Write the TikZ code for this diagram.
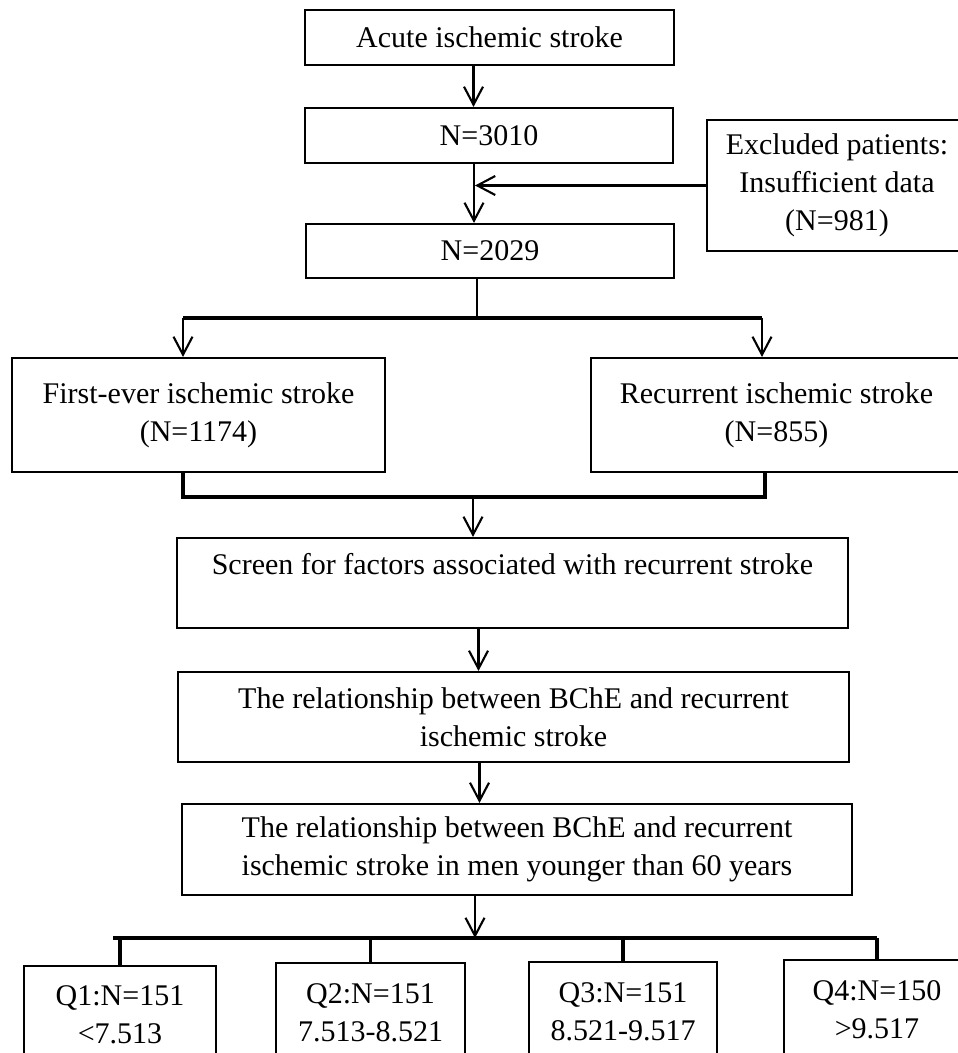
\documentclass[tikz,border=0pt]{standalone}
\usepackage{fontspec}
\setmainfont{Liberation Serif}
\usetikzlibrary{arrows.meta}
\tikzset{
  box/.style={draw, line width=1.05pt, inner sep=0pt, align=center,
    font={\fontsize{15}{19}\selectfont}},
  arr/.style={line width=1.05pt, -{Straight Barb[length=9pt,width=9.5pt]}},
  bar/.style={line width=1.6pt},
}
\begin{document}
\begin{tikzpicture}[x=0.5pt,y=-0.5pt]
        \useasboundingbox (0,0) rectangle (957,1053);
        \node[box, minimum width=184.5pt, minimum height=27.5pt] (A) at (489.5,37.5) {Acute ischemic stroke};
        \node[box, minimum width=184pt, minimum height=27.5pt] (N1) at (489,135.5) {N=3010};
        \node[box, minimum width=184pt, minimum height=27pt] (N2) at (490,251) {N=2029};
        \node[box, minimum width=130pt, minimum height=65.5pt] (Ex) at (837,185.5) {Excluded patients:\\Insufficient data\\(N=981)};
        \node[box, minimum width=186.5pt, minimum height=57pt] (F) at (198.5,415) {First-ever ischemic stroke\\(N=1174)};
        \node[box, minimum width=185.5pt, minimum height=57pt] (R) at (776.5,415) {Recurrent ischemic stroke\\(N=855)};
        \node[box, minimum width=335.5pt, minimum height=45pt] (Sc) at (512.5,583) {Screen for factors associated with recurrent stroke\\~};
        \node[box, minimum width=335.5pt, minimum height=45pt] (Rel1) at (513.5,717) {The relationship between BChE and recurrent\\ischemic stroke};
        \node[box, minimum width=335pt, minimum height=45.5pt] (Rel2) at (517,849.5) {The relationship between BChE and recurrent\\ischemic stroke in men younger than 60 years};
        \node[box, minimum width=96pt, minimum height=49pt] (Q1) at (120,1015) {Q1:N=151\\<7.513};
        \node[box, minimum width=94.5pt, minimum height=50pt] (Q2) at (370.5,1013) {Q2:N=151\\7.513-8.521};
        \node[box, minimum width=94pt, minimum height=50pt] (Q3) at (623,1012) {Q3:N=151\\8.521-9.517};
        \node[box, minimum width=93pt, minimum height=50pt] (Q4) at (877,1010) {Q4:N=150\\>9.517};
        % split and join points
        \coordinate (J1) at (477,318);
        \coordinate (J1L) at (183,318);
        \coordinate (J1R) at (762,318);
        \coordinate (J2) at (473,497);
        \coordinate (J2L) at (183,497);
        \coordinate (J2R) at (765,497);
        \coordinate (J3) at (475,938);
        \coordinate (J3L) at (113,938);
        \coordinate (J3R) at (877,938);
        \draw[arr] ([xshift=-8pt]A.south) -- ([xshift=-8pt]A.south |- N1.north);
        \draw[arr] ([xshift=-7.5pt]N1.south) -- ([xshift=-7.5pt]N1.south |- N2.north);
        \draw[arr] (Ex.west) -- ([xshift=-7pt]N1.south |- Ex.west);
        \draw[line width=1.05pt] (N2.south -| J1) -- (J1);
        \draw[bar] (J1L) -- (J1R);
        \draw[arr] (J1L) -- (J1L |- F.north);
        \draw[arr] (J1R) -- (J1R |- R.north);
        \draw[bar] (F.south -| J2L) -- (J2L) -- (J2R) -- (R.south -| J2R);
        \draw[arr] (J2) -- (J2 |- Sc.north);
        \draw[arr] ([xshift=-17pt]Sc.south) -- ([xshift=-17pt]Sc.south |- Rel1.north);
        \draw[arr] ([xshift=-17pt]Rel1.south) -- ([xshift=-17pt]Rel1.south |- Rel2.north);
        \draw[arr] (Rel2.south -| J3) -- (J3);
        \draw[bar] (J3L) -- (J3R);
        \foreach \q in {Q1,Q2,Q3,Q4}
            \draw[bar] (\q.north |- J3) -- (\q.north);
    \end{tikzpicture}
\end{document}
